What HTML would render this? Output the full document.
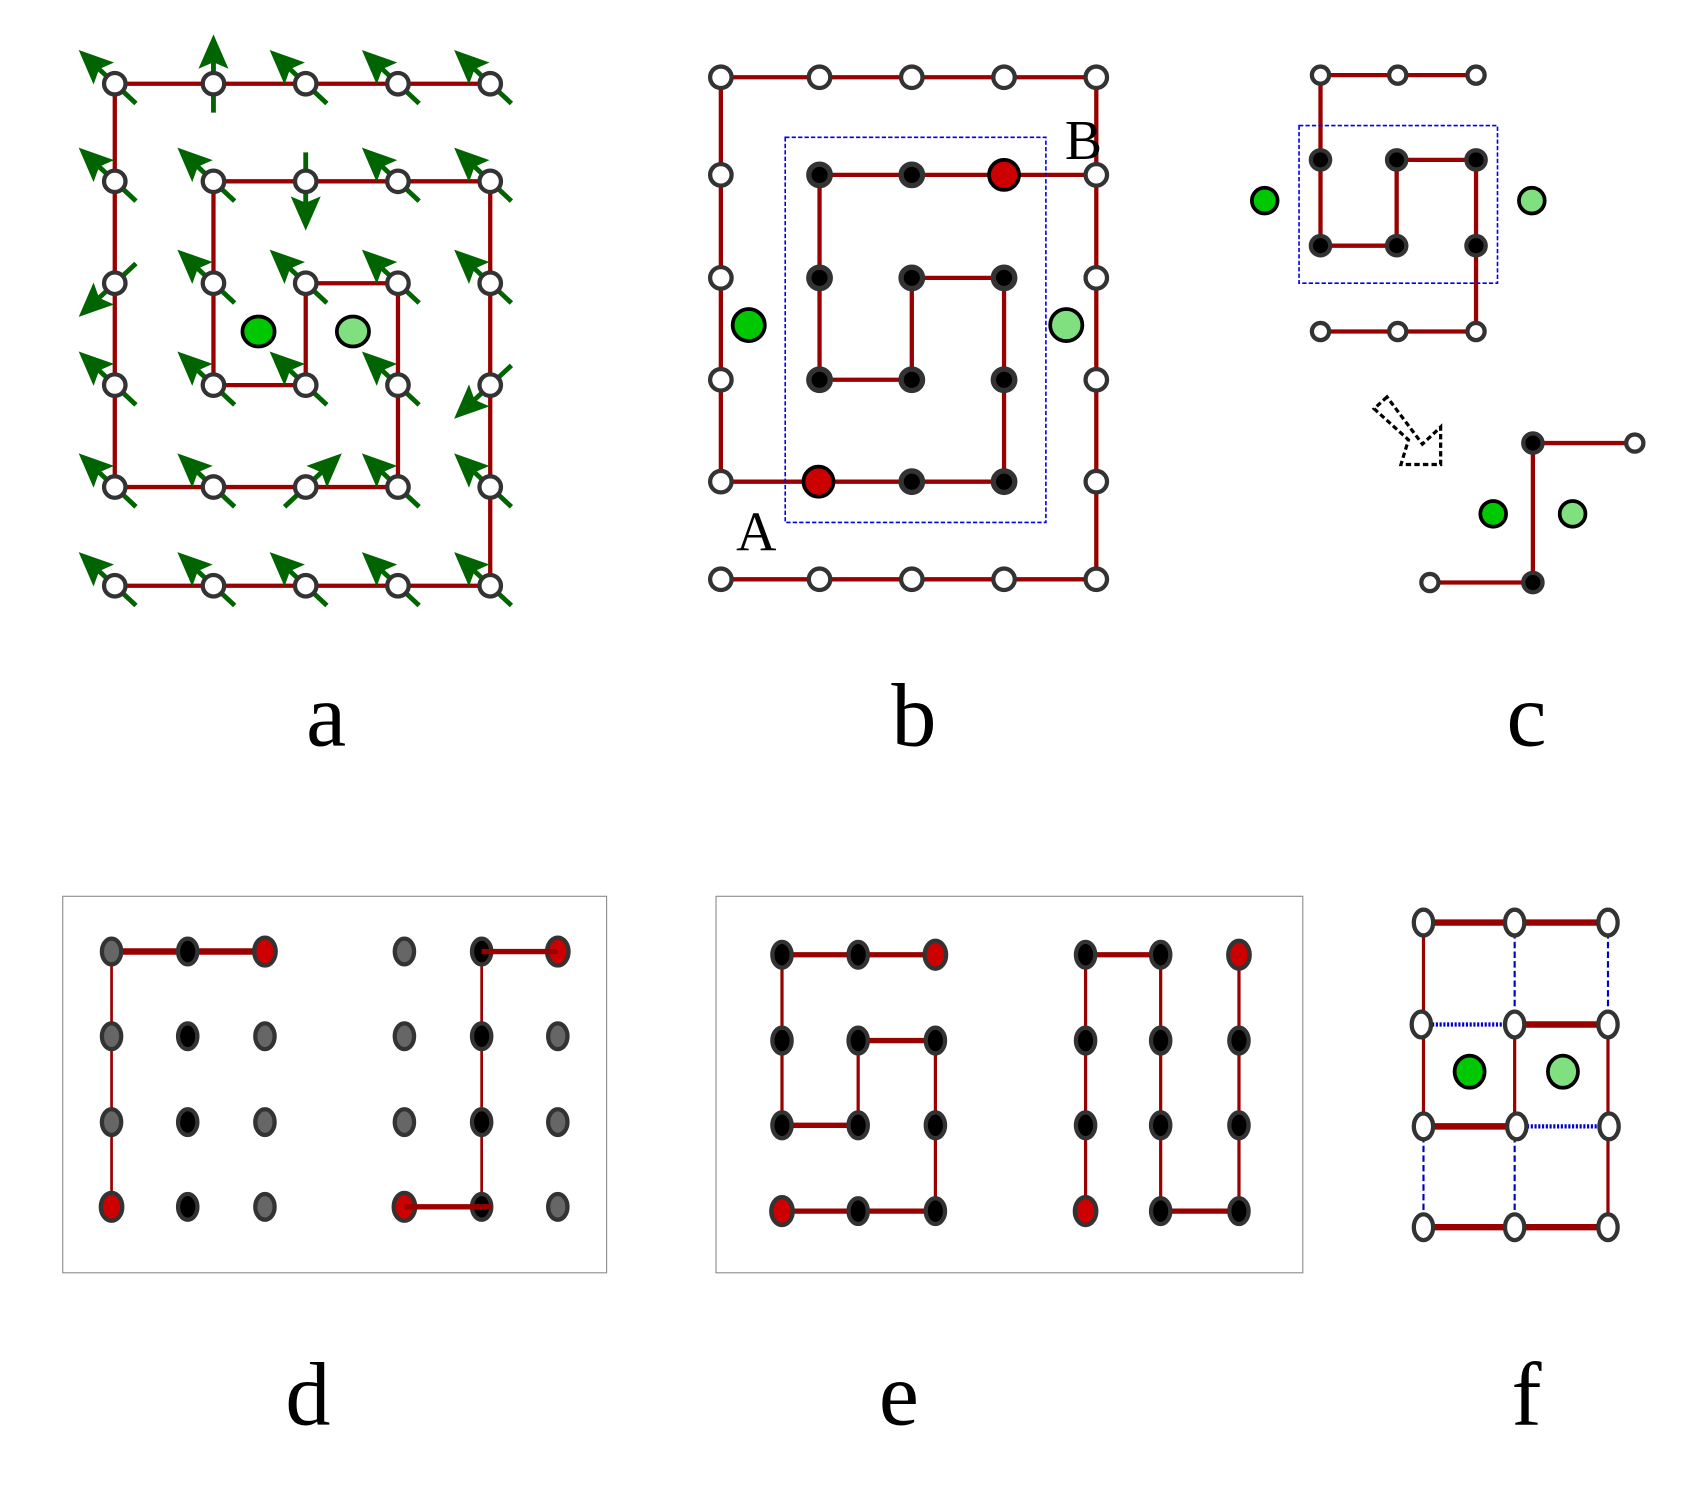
<!DOCTYPE html>
<html><head><meta charset="utf-8"><style>html,body{margin:0;padding:0;background:#fff}svg{display:block}</style></head>
<body>
<svg width="1682" height="1495" viewBox="0 0 1568 1393.6" xmlns="http://www.w3.org/2000/svg">
<defs>
<g id="ar"><line x1="-27" y1="0" x2="20" y2="0" stroke="#006400" stroke-width="4.5"/><polygon points="46,0 14,-14 20,0 14,14" fill="#006400"/></g>
<circle id="w" r="10" fill="#fff" stroke="#333" stroke-width="4"/>
<circle id="k" r="10" fill="#000" stroke="#333" stroke-width="5"/>
<circle id="ws" r="8" fill="#fff" stroke="#333" stroke-width="4"/>
<circle id="ks" r="9" fill="#000" stroke="#333" stroke-width="4"/>
<ellipse id="gd" rx="9" ry="12" fill="#666" stroke="#333" stroke-width="4"/>
<ellipse id="kd" rx="9" ry="12" fill="#000" stroke="#333" stroke-width="4"/>
<ellipse id="rd" rx="10" ry="13" fill="#cc0000" stroke="#333" stroke-width="4"/>
<ellipse id="wf" rx="9" ry="12" fill="#fff" stroke="#333" stroke-width="4"/>
</defs>
<g fill="none" stroke="#990000" stroke-width="4">
<polyline points="457,78 107,78 107,454 371,454 371,264 285,264 285,359 199,359 199,169 457,169 457,546 107,546"/>
<polyline points="763,449 672,449 672,72 1022,72 1022,540 672,540"/>
<polyline points="1022,163 764,163 764,354 850,354 850,259 936,259 936,449 763,449"/>
<polyline points="1376,70 1231,70 1231,229 1302,229 1302,149 1376,149 1376,309 1231,309"/>
<polyline points="1524,413 1429,413 1429,543 1333,543"/>
</g>
<g>
<use href="#ar" transform="translate(107,78) rotate(-137)"/>
<use href="#ar" transform="translate(199,78) rotate(-90)"/>
<use href="#ar" transform="translate(285,78) rotate(-137)"/>
<use href="#ar" transform="translate(371,78) rotate(-137)"/>
<use href="#ar" transform="translate(457,78) rotate(-137)"/>
<use href="#ar" transform="translate(107,169) rotate(-137)"/>
<use href="#ar" transform="translate(199,169) rotate(-137)"/>
<use href="#ar" transform="translate(285,169) rotate(90)"/>
<use href="#ar" transform="translate(371,169) rotate(-137)"/>
<use href="#ar" transform="translate(457,169) rotate(-137)"/>
<use href="#ar" transform="translate(107,264) rotate(137)"/>
<use href="#ar" transform="translate(199,264) rotate(-137)"/>
<use href="#ar" transform="translate(285,264) rotate(-137)"/>
<use href="#ar" transform="translate(371,264) rotate(-137)"/>
<use href="#ar" transform="translate(457,264) rotate(-137)"/>
<use href="#ar" transform="translate(107,359) rotate(-137)"/>
<use href="#ar" transform="translate(199,359) rotate(-137)"/>
<use href="#ar" transform="translate(285,359) rotate(-137)"/>
<use href="#ar" transform="translate(371,359) rotate(-137)"/>
<use href="#ar" transform="translate(457,359) rotate(137)"/>
<use href="#ar" transform="translate(107,454) rotate(-137)"/>
<use href="#ar" transform="translate(199,454) rotate(-137)"/>
<use href="#ar" transform="translate(285,454) rotate(-43)"/>
<use href="#ar" transform="translate(371,454) rotate(-137)"/>
<use href="#ar" transform="translate(457,454) rotate(-137)"/>
<use href="#ar" transform="translate(107,546) rotate(-137)"/>
<use href="#ar" transform="translate(199,546) rotate(-137)"/>
<use href="#ar" transform="translate(285,546) rotate(-137)"/>
<use href="#ar" transform="translate(371,546) rotate(-137)"/>
<use href="#ar" transform="translate(457,546) rotate(-137)"/>
</g>
<g>
<use href="#w" x="107" y="78"/><use href="#w" x="199" y="78"/><use href="#w" x="285" y="78"/><use href="#w" x="371" y="78"/><use href="#w" x="457" y="78"/>
<use href="#w" x="107" y="169"/><use href="#w" x="199" y="169"/><use href="#w" x="285" y="169"/><use href="#w" x="371" y="169"/><use href="#w" x="457" y="169"/>
<use href="#w" x="107" y="264"/><use href="#w" x="199" y="264"/><use href="#w" x="285" y="264"/><use href="#w" x="371" y="264"/><use href="#w" x="457" y="264"/>
<use href="#w" x="107" y="359"/><use href="#w" x="199" y="359"/><use href="#w" x="285" y="359"/><use href="#w" x="371" y="359"/><use href="#w" x="457" y="359"/>
<use href="#w" x="107" y="454"/><use href="#w" x="199" y="454"/><use href="#w" x="285" y="454"/><use href="#w" x="371" y="454"/><use href="#w" x="457" y="454"/>
<use href="#w" x="107" y="546"/><use href="#w" x="199" y="546"/><use href="#w" x="285" y="546"/><use href="#w" x="371" y="546"/><use href="#w" x="457" y="546"/>
</g>
<g stroke="#000" stroke-width="3.5">
<ellipse cx="241" cy="309" rx="15" ry="14" fill="#00c800"/>
<ellipse cx="329" cy="309" rx="15" ry="14" fill="#80e080"/>
</g>
<rect x="732" y="128" width="243" height="359" fill="none" stroke="#0000ee" stroke-width="1.5" stroke-dasharray="4,2"/>
<g>
<use href="#w" x="672" y="72"/><use href="#w" x="764" y="72"/><use href="#w" x="850" y="72"/><use href="#w" x="936" y="72"/><use href="#w" x="1022" y="72"/>
<use href="#w" x="672" y="163"/><use href="#w" x="672" y="259"/><use href="#w" x="672" y="354"/><use href="#w" x="672" y="449"/>
<use href="#w" x="1022" y="163"/><use href="#w" x="1022" y="259"/><use href="#w" x="1022" y="354"/><use href="#w" x="1022" y="449"/>
<use href="#w" x="672" y="540"/><use href="#w" x="764" y="540"/><use href="#w" x="850" y="540"/><use href="#w" x="936" y="540"/><use href="#w" x="1022" y="540"/>
<use href="#k" x="764" y="163"/><use href="#k" x="850" y="163"/>
<use href="#k" x="764" y="259"/><use href="#k" x="850" y="259"/><use href="#k" x="936" y="259"/>
<use href="#k" x="764" y="354"/><use href="#k" x="850" y="354"/><use href="#k" x="936" y="354"/>
<use href="#k" x="850" y="449"/><use href="#k" x="936" y="449"/>
</g>
<g stroke="#000" stroke-width="3.5">
<circle cx="936" cy="163" r="14" fill="#cc0000"/>
<circle cx="763" cy="449" r="14" fill="#cc0000"/>
<circle cx="698" cy="303" r="15" fill="#00c800"/>
<circle cx="994" cy="303" r="15" fill="#80e080"/>
</g>
<g font-family="Liberation Serif, serif" fill="#000">
<text x="705" y="513" font-size="52" text-anchor="middle">A</text>
<text x="1010" y="148" font-size="52" text-anchor="middle">B</text>
</g>
<rect x="1211" y="117" width="185" height="147" fill="none" stroke="#0000ee" stroke-width="1.5" stroke-dasharray="4,2"/>
<g>
<use href="#ws" x="1231" y="70"/><use href="#ws" x="1303" y="70"/><use href="#ws" x="1376" y="70"/>
<use href="#ks" x="1231" y="149"/><use href="#ks" x="1302" y="149"/><use href="#ks" x="1376" y="149"/>
<use href="#ks" x="1231" y="229"/><use href="#ks" x="1302" y="229"/><use href="#ks" x="1376" y="229"/>
<use href="#ws" x="1231" y="309"/><use href="#ws" x="1303" y="309"/><use href="#ws" x="1376" y="309"/>
<use href="#ks" x="1429" y="413"/><use href="#ws" x="1524" y="413"/>
<use href="#ks" x="1429" y="543"/><use href="#ws" x="1333" y="543"/>
</g>
<g stroke="#000" stroke-width="3.5">
<circle cx="1179" cy="187" r="12" fill="#00c800"/>
<circle cx="1428" cy="187" r="12" fill="#80e080"/>
<circle cx="1392" cy="479" r="12" fill="#00c800"/>
<circle cx="1466" cy="479" r="12" fill="#80e080"/>
</g>
<polygon points="1293,370 1281,381 1313,410 1306,433 1343,433 1343,398 1326,414" fill="none" stroke="#000" stroke-width="3" stroke-dasharray="5,3"/>
<rect x="58.5" y="835.5" width="507" height="351" fill="none" stroke="#888" stroke-width="1"/>
<g stroke="#990000" fill="none">
<line x1="104" y1="887" x2="247" y2="887" stroke-width="6"/>
<line x1="104" y1="887" x2="104" y2="1125" stroke-width="2.5"/>
<line x1="449" y1="887" x2="449" y2="1125" stroke-width="2.5"/>
</g>
<g>
<use href="#gd" x="104" y="966"/><use href="#gd" x="104" y="1046"/><use href="#gd" x="104" y="887"/>
<use href="#kd" x="175" y="887"/><use href="#kd" x="175" y="966"/><use href="#kd" x="175" y="1046"/><use href="#kd" x="175" y="1125"/>
<use href="#gd" x="247" y="966"/><use href="#gd" x="247" y="1046"/><use href="#gd" x="247" y="1125"/>
<use href="#rd" x="247" y="887"/><use href="#rd" x="104" y="1125"/>
<use href="#gd" x="377" y="887"/><use href="#gd" x="377" y="966"/><use href="#gd" x="377" y="1046"/>
<use href="#kd" x="449" y="887"/><use href="#kd" x="449" y="966"/><use href="#kd" x="449" y="1046"/><use href="#kd" x="449" y="1125"/>
<use href="#gd" x="520" y="966"/><use href="#gd" x="520" y="1046"/><use href="#gd" x="520" y="1125"/>
<use href="#rd" x="520" y="887"/><use href="#rd" x="377" y="1125"/>
</g>
<g stroke="#990000" stroke-width="5"><line x1="449" y1="887" x2="520" y2="887"/><line x1="377" y1="1125" x2="458" y2="1125"/></g>
<rect x="667.5" y="835.5" width="547" height="351" fill="none" stroke="#888" stroke-width="1"/>
<g stroke="#990000" fill="none" stroke-width="3">
<polyline points="872,890 729,890 729,1049 800,1049 800,970 872,970 872,1129 729,1129"/>
<polyline points="1082,890 1012,890 1012,1129"/>
<polyline points="1082,890 1082,1129 1155,1129 1155,890"/>
</g>
<g stroke="#990000" stroke-width="5"><line x1="729" y1="890" x2="872" y2="890"/><line x1="729" y1="1049" x2="800" y2="1049"/><line x1="800" y1="970" x2="872" y2="970"/><line x1="729" y1="1129" x2="872" y2="1129"/><line x1="1012" y1="890" x2="1082" y2="890"/><line x1="1082" y1="1129" x2="1155" y2="1129"/></g>
<g>
<use href="#kd" x="729" y="890"/><use href="#kd" x="800" y="890"/><use href="#rd" x="872" y="890"/>
<use href="#kd" x="729" y="970"/><use href="#kd" x="800" y="970"/><use href="#kd" x="872" y="970"/>
<use href="#kd" x="729" y="1049"/><use href="#kd" x="800" y="1049"/><use href="#kd" x="872" y="1049"/>
<use href="#rd" x="729" y="1129"/><use href="#kd" x="800" y="1129"/><use href="#kd" x="872" y="1129"/>
<use href="#kd" x="1012" y="890"/><use href="#kd" x="1082" y="890"/><use href="#rd" x="1155" y="890"/>
<use href="#kd" x="1012" y="970"/><use href="#kd" x="1082" y="970"/><use href="#kd" x="1155" y="970"/>
<use href="#kd" x="1012" y="1049"/><use href="#kd" x="1082" y="1049"/><use href="#kd" x="1155" y="1049"/>
<use href="#rd" x="1012" y="1129"/><use href="#kd" x="1082" y="1129"/><use href="#kd" x="1155" y="1129"/>
</g>
<g stroke="#0000cc" stroke-width="2" fill="none" stroke-dasharray="6,3">
<line x1="1412" y1="860" x2="1412" y2="955"/><line x1="1499" y1="860" x2="1499" y2="955"/>
<line x1="1327" y1="1050" x2="1327" y2="1144"/><line x1="1412" y1="1050" x2="1412" y2="1144"/>
</g>
<g stroke="#0000cc" stroke-width="4" stroke-dasharray="2,1.5">
<line x1="1335" y1="955" x2="1404" y2="955"/><line x1="1420" y1="1050" x2="1491" y2="1050"/>
</g>
<g stroke="#990000" fill="none">
<line x1="1327" y1="860" x2="1499" y2="860" stroke-width="6"/>
<line x1="1327" y1="1144" x2="1499" y2="1144" stroke-width="6"/>
<line x1="1412" y1="955" x2="1499" y2="955" stroke-width="6"/>
<line x1="1327" y1="1050" x2="1412" y2="1050" stroke-width="6"/>
<line x1="1327" y1="860" x2="1327" y2="1050" stroke-width="3"/>
<line x1="1412" y1="955" x2="1412" y2="1050" stroke-width="3"/>
<line x1="1499" y1="955" x2="1499" y2="1144" stroke-width="3"/>
</g>
<g>
<use href="#wf" x="1327" y="860"/><use href="#wf" x="1412" y="860"/><use href="#wf" x="1499" y="860"/>
<use href="#wf" x="1325" y="955"/><use href="#wf" x="1412" y="955"/><use href="#wf" x="1499" y="955"/>
<use href="#wf" x="1327" y="1050"/><use href="#wf" x="1414" y="1050"/><use href="#wf" x="1500" y="1050"/>
<use href="#wf" x="1327" y="1144"/><use href="#wf" x="1412" y="1144"/><use href="#wf" x="1499" y="1144"/>
</g>
<g stroke="#000" stroke-width="3.5">
<ellipse cx="1370" cy="999" rx="14" ry="15" fill="#00c800"/>
<ellipse cx="1457" cy="999" rx="14" ry="15" fill="#80e080"/>
</g>
<g font-family="Liberation Serif, serif" font-size="84" fill="#000" text-anchor="middle">
<text x="304" y="695">a</text>
<text x="852" y="695">b</text>
<text x="1423" y="695">c</text>
<text x="287" y="1328">d</text>
<text x="838" y="1328">e</text>
<text x="1423" y="1328">f</text>
</g>
</svg>
</body></html>
